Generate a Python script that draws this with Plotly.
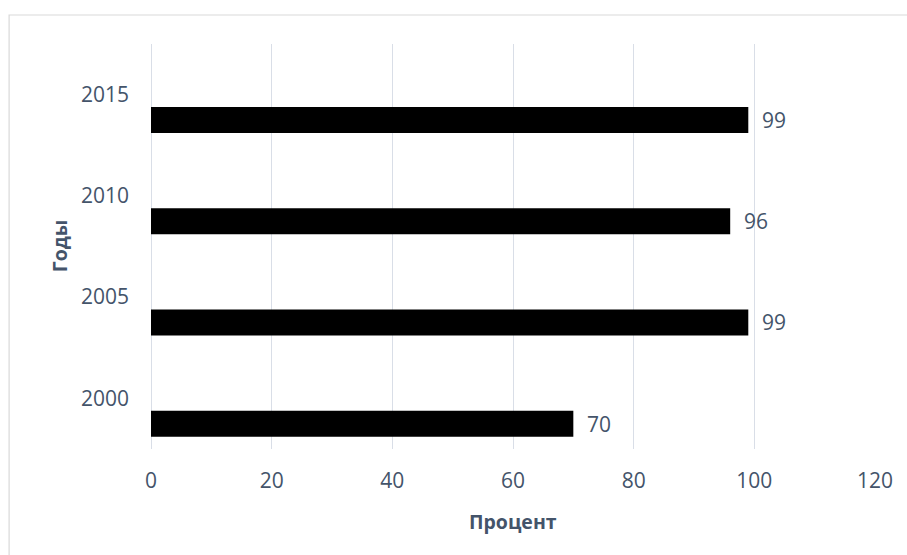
import plotly.graph_objects as go

years = ["2000", "2005", "2010", "2015"]
percent = [70, 99, 96, 99]
x_ticks = [0, 20, 40, 60, 80, 100, 120]

txt = "#44546A"
grid = "#D9DEE7"
font = "Open Sans"

fig = go.Figure()
fig.add_trace(go.Bar(
    y=years, x=percent, orientation="h",
    marker=dict(color="#000000", line=dict(width=0)),
    width=0.257, offset=-0.379,
    hoverinfo="x+y",
))

for i, (yr, v) in enumerate(zip(years, percent)):
    fig.add_annotation(x=v, y=i - 0.25, xref="x", yref="y", text=str(v),
                       showarrow=False, xanchor="left", yanchor="middle",
                       xshift=12, font=dict(family=font, size=21, color=txt))

fig.add_annotation(text="Процент", xref="paper", yref="paper", x=0.5, y=-0.18,
                   showarrow=False, xanchor="center", yanchor="middle",
                   font=dict(family=font, size=19.5, color=txt, weight="bold"))
fig.add_annotation(text="Годы", xref="paper", yref="paper", x=-0.127, y=0.501,
                   showarrow=False, xanchor="center", yanchor="middle", textangle=-90,
                   font=dict(family=font, size=19.5, color=txt, weight="bold"))

fig.add_shape(type="rect", xref="paper", yref="paper", x0=-0.196, y0=-1, x1=2, y1=1.0716,
              line=dict(color="#D9D9D9", width=1.2), fillcolor="rgba(0,0,0,0)", layer="below")

fig.update_layout(
    width=907, height=555,
    margin=dict(l=151, r=32, t=44, b=106),
    paper_bgcolor="white", plot_bgcolor="white",
    showlegend=False,
    xaxis=dict(range=[0, 120], tickvals=x_ticks, showgrid=True, gridcolor=grid, gridwidth=1.2,
               zeroline=True, zerolinecolor=grid, zerolinewidth=1.2, showline=False,
               ticks="", ticklabelstandoff=17,
               tickfont=dict(family=font, size=21, color=txt)),
    yaxis=dict(type="category", categoryorder="array", categoryarray=years,
               range=[-0.5, 3.5], showgrid=False, zeroline=False, showline=False, ticks="",
               ticklabelstandoff=21,
               tickfont=dict(family=font, size=21, color=txt)),
)

fig.write_html("out.html")
